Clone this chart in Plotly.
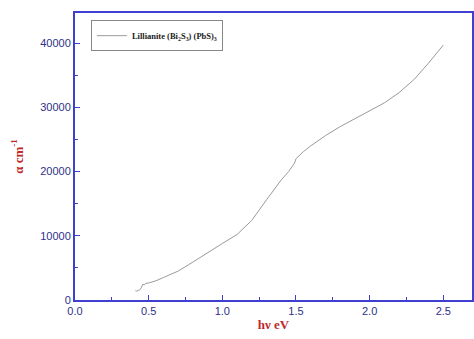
import plotly.graph_objects as go

hv_ev = [0.41, 0.42, 0.43, 0.44, 0.45, 0.455, 0.46, 0.47, 0.48, 0.50, 0.55, 0.60,
         0.70, 0.80, 0.90, 1.00, 1.10, 1.20, 1.30, 1.40, 1.45, 1.48, 1.49, 1.50,
         1.55, 1.60, 1.70, 1.80, 1.90, 2.00, 2.10, 2.20, 2.30, 2.40, 2.50]
alpha = [1450, 1380, 1500, 1580, 1900, 2300, 2450, 2350, 2600, 2650, 3000, 3500,
         4500, 5900, 7400, 8800, 10200, 12400, 15600, 18700, 20000, 21000, 21300, 22000,
         23100, 24000, 25600, 27000, 28200, 29400, 30700, 32300, 34300, 36900, 39700]

series_name = "<b>Lillianite (Bi<sub>2</sub>S<sub>3</sub>) (PbS)<sub>3</sub></b>"
x_ticks = [0.0, 0.5, 1.0, 1.5, 2.0, 2.5]
y_ticks = [0, 10000, 20000, 30000, 40000]

axis_col = "#4040d0"
tick_col = "#30308a"
title_col = "#c0282a"

fig = go.Figure()
fig.add_trace(go.Scatter(x=hv_ev, y=alpha, mode="lines", name=series_name,
                         line=dict(color="#9a9a9a", width=1)))

fig.update_layout(
    width=474, height=339,
    margin=dict(l=75, r=0, t=13, b=39),
    paper_bgcolor="white", plot_bgcolor="white",
    showlegend=True,
    legend=dict(x=0.04, y=0.975, xanchor="left", yanchor="top",
                bgcolor="white", bordercolor="#888888", borderwidth=1,
                font=dict(family="Liberation Serif", size=8.5, color="#222222"),
                itemwidth=30, tracegroupgap=0),
)
fig.update_xaxes(
    range=[0, 2.695], tickvals=x_ticks, ticktext=[f"{v:.1f}" for v in x_ticks],
    showgrid=False, zeroline=False,
    showline=True, linecolor=axis_col, linewidth=2, mirror=True,
    ticks="inside", ticklen=5, tickwidth=1, tickcolor=axis_col,
    minor=dict(dtick=0.25, tick0=0, ticks="inside", ticklen=3, tickcolor=axis_col),
    tickfont=dict(family="Liberation Sans", size=11, color=tick_col),
    title=dict(text="<b>hν eV</b>", font=dict(family="Liberation Serif", size=13, color=title_col), standoff=2),
)
fig.update_yaxes(
    range=[0, 44700], tickvals=y_ticks, ticktext=[str(v) for v in y_ticks],
    showgrid=False, zeroline=False,
    showline=True, linecolor=axis_col, linewidth=2, mirror=True,
    ticks="inside", ticklen=5, tickwidth=1, tickcolor=axis_col,
    minor=dict(dtick=5000, tick0=0, ticks="inside", ticklen=3, tickcolor=axis_col),
    tickfont=dict(family="Liberation Sans", size=11, color=tick_col),
    title=dict(text="<b>α cm<sup>-1</sup></b>", font=dict(family="Liberation Serif", size=13, color=title_col), standoff=14),
)
fig.write_html("out.html")
